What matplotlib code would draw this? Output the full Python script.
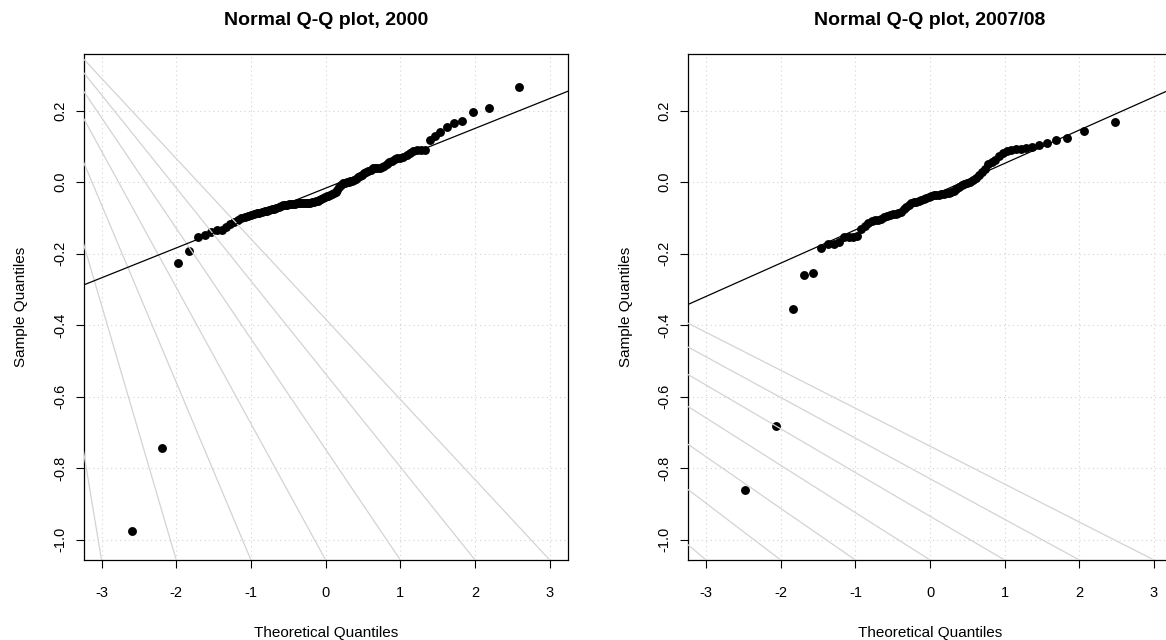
import matplotlib
matplotlib.use("Agg")
import matplotlib.pyplot as plt
import numpy as np
from statistics import NormalDist

plt.rcParams['font.family'] = ['Liberation Sans', 'DejaVu Sans']
plt.rcParams['axes.unicode_minus'] = False

# sorted sample values
sample_2000 = [-0.976, -0.743, -0.226, -0.192, -0.155, -0.148, -0.140, -0.135, -0.133, -0.125,
               -0.118, -0.112, -0.106, -0.101, -0.097, -0.094, -0.092, -0.090, -0.088, -0.086,
               -0.084, -0.082, -0.080, -0.078, -0.076, -0.075, -0.073, -0.069, -0.066, -0.064,
               -0.063, -0.063, -0.062, -0.062, -0.061, -0.061, -0.060, -0.060, -0.060, -0.060,
               -0.060, -0.059, -0.059, -0.058, -0.057, -0.056, -0.054, -0.052, -0.050, -0.047,
               -0.044, -0.041, -0.040, -0.038, -0.036, -0.034, -0.032, -0.028, -0.022, -0.014,
               -0.008, -0.004, -0.002, 0.000, 0.001, 0.002, 0.004, 0.006, 0.009, 0.013,
               0.016, 0.019, 0.025, 0.029, 0.032, 0.035, 0.038, 0.039, 0.040, 0.040,
               0.041, 0.046, 0.051, 0.056, 0.060, 0.064, 0.066, 0.068, 0.070, 0.075,
               0.080, 0.087, 0.089, 0.090, 0.090, 0.117, 0.129, 0.141, 0.153, 0.164,
               0.171, 0.197, 0.208, 0.267]

sample_0708 = [-0.860, -0.682, -0.356, -0.260, -0.254, -0.184, -0.172, -0.172, -0.168, -0.155,
               -0.155, -0.153, -0.150, -0.130, -0.122, -0.114, -0.109, -0.106, -0.105, -0.103,
               -0.098, -0.095, -0.092, -0.090, -0.089, -0.088, -0.084, -0.076, -0.070, -0.065,
               -0.060, -0.057, -0.055, -0.053, -0.050, -0.048, -0.046, -0.043, -0.040, -0.037,
               -0.036, -0.035, -0.034, -0.034, -0.032, -0.030, -0.028, -0.025, -0.019, -0.014,
               -0.009, -0.006, -0.003, 0.001, 0.006, 0.011, 0.020, 0.028, 0.036, 0.050,
               0.055, 0.061, 0.073, 0.082, 0.088, 0.090, 0.091, 0.093, 0.096, 0.098,
               0.104, 0.108, 0.117, 0.124, 0.143, 0.169]

titles = ["Normal Q-Q plot, 2000", "Normal Q-Q plot, 2007/08"]

# grey fan lines: all pass through one point and hit the bottom at the x ticks
fan_ticks = [-3, -2, -1, 0, 1, 2, 3]
fan_focus_2000 = (-4.30, 0.582)
fan_focus_0708 = (-12.1, 0.545)

x_ticks = [-3, -2, -1, 0, 1, 2, 3]
y_ticks = [-1.0, -0.8, -0.6, -0.4, -0.2, 0.0, 0.2]
x_lim = (-3.24, 3.24)
y_lim = (-1.057, 0.358)


def theoretical(n):
    # R's ppoints for n > 10
    nd = NormalDist()
    return np.array([nd.inv_cdf((i - 0.5) / n) for i in range(1, n + 1)])


def qq_panel(ax, sample, focus, title):
    y = np.sort(np.array(sample))
    x = theoretical(len(y))

    ax.set_xlim(*x_lim)
    ax.set_ylim(*y_lim)

    # grid() at tick positions
    for t in x_ticks:
        ax.axvline(t, color='#d3d3d3', lw=0.8, ls=(0, (1, 3)), zorder=1)
    for t in y_ticks:
        ax.axhline(t, color='#d3d3d3', lw=0.8, ls=(0, (1, 3)), zorder=1)

    ax.plot(x, y, 'o', color='black', ms=6.4, mew=0, zorder=3)

    for k in fan_ticks:
        ax.axline(focus, (k, y_lim[0]), color='#d3d3d3', lw=0.9, zorder=4)

    # qqline through the quartiles
    q1, q3 = np.quantile(y, [0.25, 0.75])
    z1, z3 = NormalDist().inv_cdf(0.25), NormalDist().inv_cdf(0.75)
    slope = (q3 - q1) / (z3 - z1)
    icpt = q1 - slope * z1
    ax.axline((0, icpt), slope=slope, color='black', lw=0.9, zorder=5)

    ax.set_xticks(x_ticks)
    ax.set_yticks(y_ticks)
    ax.set_xticklabels([str(t) for t in x_ticks])
    ax.set_yticklabels(["%.1f" % t for t in y_ticks])
    ax.tick_params(axis='both', direction='out', length=6, width=0.8, labelsize=10.5)
    ax.tick_params(axis='x', pad=13)
    ax.tick_params(axis='y', pad=6)
    plt.setp(ax.get_yticklabels(), rotation=90, va='center')
    for s in ax.spines.values():
        s.set_linewidth(0.9)

    ax.set_title(title, fontsize=14, fontweight='bold', pad=21)
    ax.set_xlabel("Theoretical Quantiles", fontsize=11)
    ax.set_ylabel("Sample Quantiles", fontsize=11)
    ax.xaxis.set_label_coords(0.5, -0.152)
    ax.xaxis.label.set_va('baseline')
    ax.yaxis.set_label_coords(-0.121, 0.5)
    ax.yaxis.label.set_va('baseline')


fig = plt.figure(figsize=(11.66, 6.4), dpi=100)
ax1 = fig.add_axes([0.0717, 0.125, 0.4152, 0.7906])
ax2 = fig.add_axes([0.5902, 0.125, 0.4149, 0.7906])

qq_panel(ax1, sample_2000, fan_focus_2000, titles[0])
qq_panel(ax2, sample_0708, fan_focus_0708, titles[1])

fig.savefig("out.png", dpi=100)
